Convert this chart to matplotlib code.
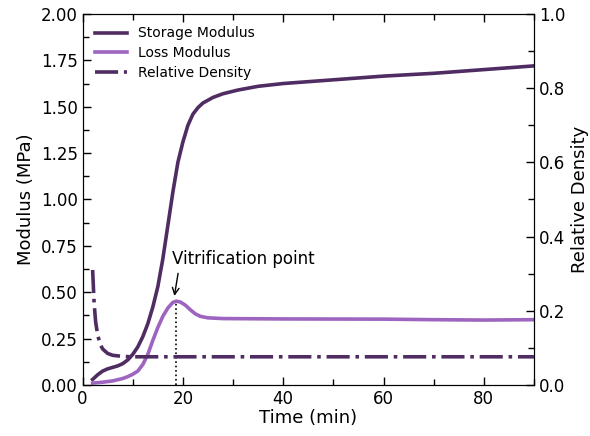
import numpy as np
import matplotlib.pyplot as plt
from matplotlib.ticker import AutoMinorLocator

# storage modulus (MPa) vs time (min)
t_storage = [2, 3, 4, 5, 6, 7, 8, 9, 10, 11, 12, 13, 14, 15, 16, 17, 18, 19, 20,
             21, 22, 23, 24, 26, 28, 31, 35, 40, 50, 60, 70, 80, 90]
storage = [0.03, 0.055, 0.075, 0.087, 0.095, 0.103, 0.115, 0.135, 0.165, 0.205,
           0.26, 0.33, 0.42, 0.53, 0.68, 0.86, 1.04, 1.20, 1.31, 1.40, 1.46,
           1.495, 1.52, 1.55, 1.57, 1.59, 1.61, 1.625, 1.645, 1.665, 1.68, 1.70,
           1.72]

# loss modulus (MPa)
t_loss = [2, 4, 6, 8, 9, 10, 11, 12, 13, 14, 15, 16, 17, 18, 18.7, 19.5, 20.5,
          21.5, 22.5, 23.5, 25, 28, 40, 60, 70, 80, 90]
loss = [0.01, 0.015, 0.022, 0.035, 0.045, 0.058, 0.075, 0.11, 0.165, 0.24, 0.31,
        0.37, 0.415, 0.445, 0.452, 0.447, 0.43, 0.405, 0.383, 0.37, 0.362, 0.358,
        0.356, 0.355, 0.352, 0.350, 0.352]

# relative density
t_dens = [2, 2.3, 2.6, 3, 3.5, 4, 5, 6, 8, 10, 30, 60, 90]
density = [0.31, 0.22, 0.17, 0.135, 0.11, 0.097, 0.085, 0.08, 0.077, 0.076,
           0.076, 0.076, 0.076]

t_vit = 18.7
g_vit = 0.452

c_storage = '#4F2D63'
c_loss = '#9D65BF'

plt.rcParams['font.size'] = 12

fig, ax = plt.subplots(figsize=(5.9, 4.36), dpi=100)
ax2 = ax.twinx()

l1, = ax.plot(t_storage, storage, color=c_storage, linewidth=2.6, label='Storage Modulus')
l2, = ax.plot(t_loss, loss, color=c_loss, linewidth=2.6, label='Loss Modulus')
l3, = ax2.plot(t_dens, density, color=c_storage, linewidth=2.6, linestyle='-.',
               label='Relative Density')

ax.plot([t_vit, t_vit], [0, g_vit], color='black', linestyle=':', linewidth=1.2)
ax.annotate('Vitrification point', xy=(t_vit - 0.4, 0.48), xytext=(17.8, 0.68),
            fontsize=12, ha='left', va='center',
            arrowprops=dict(arrowstyle='->', color='black', lw=1,
                            relpos=(0.05, 0.0), shrinkA=2, shrinkB=0))

ax.set_xlim(0, 90)
ax.set_ylim(0, 2)
ax2.set_ylim(0, 1)
ax.set_xticks([0, 20, 40, 60, 80])
ax.set_yticks(np.arange(0, 2.01, 0.25))
ax.set_yticklabels(['%.2f' % v for v in np.arange(0, 2.01, 0.25)])
ax2.set_yticks([0, 0.2, 0.4, 0.6, 0.8, 1.0])

for a in (ax, ax2):
    a.xaxis.set_minor_locator(AutoMinorLocator(2))
    a.yaxis.set_minor_locator(AutoMinorLocator(2))
    a.tick_params(which='both', direction='in', top=True, length=6, width=1)
    a.tick_params(which='minor', length=4)
ax.tick_params(right=False, which='both')

ax.set_xlabel('Time (min)', fontsize=13, labelpad=1)
ax.set_ylabel('Modulus (MPa)', fontsize=13)
ax2.set_ylabel('Relative Density', fontsize=13)

ax.legend(handles=[l1, l2, l3], loc='upper left', frameon=False, fontsize=10,
          handlelength=2.3, labelspacing=0.4)

plt.subplots_adjust(left=0.14, right=0.905, top=0.968, bottom=0.117)
plt.savefig('out.png', dpi=100)
